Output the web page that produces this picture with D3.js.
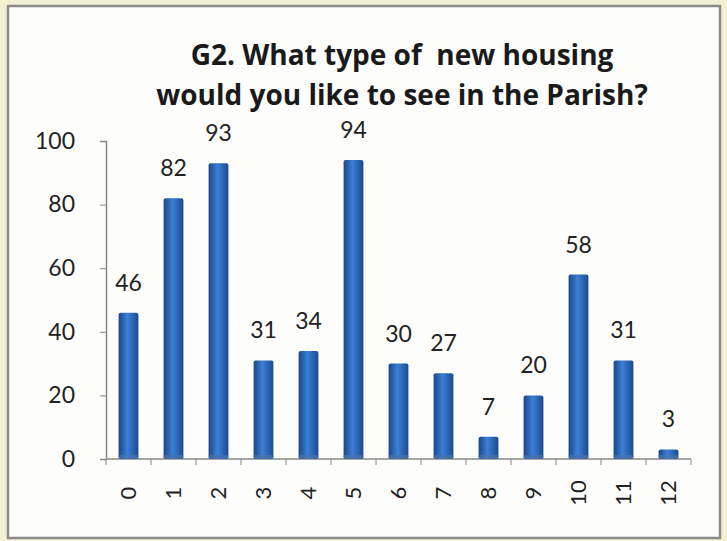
<!DOCTYPE html>
<html>
<head>
<meta charset="utf-8">
<script src="https://cdn.jsdelivr.net/npm/d3@7"></script>
<style>
  html, body { margin: 0; padding: 0; background: #f2f0d2; }
  #chart { width: 727px; height: 541px; }
</style>
</head>
<body>
<div id="chart"></div>
<script>
// chart data
const categories = ['0', '1', '2', '3', '4', '5', '6', '7', '8', '9', '10', '11', '12'];
const values = [46, 82, 93, 31, 34, 94, 30, 27, 7, 20, 58, 31, 3];
const yTicks = [0, 20, 40, 60, 80, 100];
const titleLines = ['G2. What type of  new housing', 'would you like to see in the Parish?'];

const width = 727;
const height = 541;
const margin = { top: 141, left: 106, bottom: 82, right: 36 };
const font = 'Lato, "Open Sans", sans-serif';

const svg = d3
  .select('#chart')
  .append('svg')
  .attr('width', width)
  .attr('height', height);

const defs = svg.append('defs');
// bar gradient (cylinder look)
const grad = defs.append('linearGradient').attr('id', 'barGrad').attr('x1', 0).attr('x2', 1).attr('y1', 0).attr('y2', 0);
grad.append('stop').attr('offset', '0%').attr('stop-color', '#1c4688');
grad.append('stop').attr('offset', '45%').attr('stop-color', '#3b7fd6');
grad.append('stop').attr('offset', '100%').attr('stop-color', '#1b4a90');

// panel
svg
  .append('rect')
  .attr('x', 8)
  .attr('y', 6)
  .attr('width', 712)
  .attr('height', 532)
  .attr('fill', '#fdfdfb')
  .attr('stroke', '#8a8a8a')
  .attr('stroke-width', 2.5);

// x
const x = d3
  .scaleBand()
  .domain(categories)
  .range([margin.left, width - margin.right])
  .paddingInner(0.56)
  .paddingOuter(0.28);

const y = d3
  .scaleLinear()
  .domain([0, 100])
  .range([height - margin.bottom, margin.top]);

// y axis
const yAxis = svg
  .append('g')
  .attr('transform', `translate(${margin.left}, 0)`)
  .call(d3.axisLeft(y).tickValues(yTicks).tickSize(6).tickPadding(25));
yAxis.select('.domain').attr('stroke', '#888').attr('stroke-width', 1.5);
yAxis.selectAll('line').attr('stroke', '#888');
yAxis.selectAll('text').attr('font-family', font).attr('font-size', 23).attr('fill', '#222');

// x axis : boundary ticks
const xAxisG = svg.append('g').attr('transform', `translate(0, ${y(0)})`);
xAxisG
  .append('line')
  .attr('x1', margin.left)
  .attr('x2', width - margin.right)
  .attr('stroke', '#888')
  .attr('stroke-width', 1.5);
const step = x.step();
const bounds = d3.range(categories.length + 1).map((i) => margin.left + i * step);
xAxisG
  .selectAll('.tick')
  .data(bounds)
  .enter()
  .append('line')
  .attr('x1', (d) => d)
  .attr('x2', (d) => d)
  .attr('y1', 0)
  .attr('y2', 6)
  .attr('stroke', '#888');
xAxisG
  .selectAll('text')
  .data(categories)
  .enter()
  .append('text')
  .text((d) => d)
  .attr('transform', (d) => `translate(${x(d) + x.bandwidth() / 2}, 34) rotate(-90)`)
  .attr('text-anchor', 'middle')
  .attr('dy', '0.35em')
  .attr('font-family', font)
  .attr('font-size', 22)
  .attr('fill', '#222');

// bars
const bars = svg.append('g');
bars
  .selectAll('rect')
  .data(values)
  .enter()
  .append('rect')
  .attr('x', (d, i) => x(categories[i]))
  .attr('y', (d) => y(d))
  .attr('width', x.bandwidth())
  .attr('height', (d) => y(0) - y(d))
  .attr('rx', 2)
  .attr('fill', 'url(#barGrad)');
// bottom shade
bars
  .selectAll('.base')
  .data(values)
  .enter()
  .append('rect')
  .attr('x', (d, i) => x(categories[i]))
  .attr('y', y(0) - 4)
  .attr('width', x.bandwidth())
  .attr('height', 4)
  .attr('fill', '#4f72a8')
  .attr('opacity', 0.7);

// value labels
svg
  .append('g')
  .selectAll('text')
  .data(values)
  .enter()
  .append('text')
  .text((d) => d)
  .attr('x', (d, i) => x(categories[i]) + x.bandwidth() / 2)
  .attr('y', (d) => y(d) - 22)
  .attr('text-anchor', 'middle')
  .attr('font-family', font)
  .attr('font-size', 23)
  .attr('fill', '#222');

// title
svg
  .append('g')
  .selectAll('text')
  .data(titleLines)
  .enter()
  .append('text')
  .text((d) => d)
  .attr('x', 402)
  .attr('y', (d, i) => 65 + i * 40)
  .attr('text-anchor', 'middle')
  .attr('font-family', '"Open Sans", sans-serif')
  .attr('font-weight', 'bold')
  .attr('font-size', 28)
  .attr('fill', '#1a1a1a')
  .style('white-space', 'pre');
</script>
</body>
</html>
